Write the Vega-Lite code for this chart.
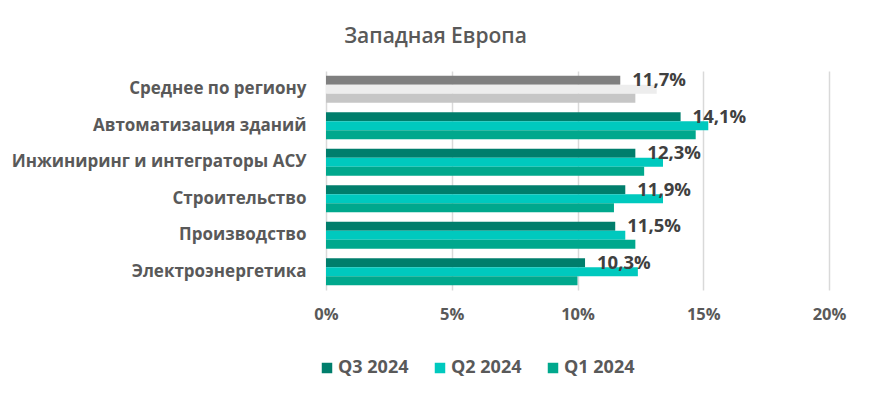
{
  "$schema": "https://vega.github.io/schema/vega-lite/v6.json",
  "width": 503,
  "height": 219,
  "padding": {"left": 11, "top": 26, "right": 41, "bottom": 20},
  "background": "white",
  "config": {
    "locale": {"number": {"decimal": ",", "thousands": " ", "grouping": [3], "currency": ["", " €"]}},
    "font": "Open Sans",
    "view": {"stroke": null}
  },
  "title": {
    "text": "Западная Европа",
    "anchor": "middle",
    "frame": "bounds",
    "fontSize": 21,
    "fontWeight": 600,
    "color": "#595959",
    "offset": 24,
    "dx": 7
  },
  "data": {
    "values": [
      {"category": "Среднее по региону", "series": "Q3 2024", "value": 0.117},
      {"category": "Среднее по региону", "series": "Q2 2024", "value": 0.1315},
      {"category": "Среднее по региону", "series": "Q1 2024", "value": 0.123},
      {"category": "Автоматизация зданий", "series": "Q3 2024", "value": 0.141},
      {"category": "Автоматизация зданий", "series": "Q2 2024", "value": 0.152},
      {"category": "Автоматизация зданий", "series": "Q1 2024", "value": 0.147},
      {"category": "Инжиниринг и интеграторы АСУ", "series": "Q3 2024", "value": 0.123},
      {"category": "Инжиниринг и интеграторы АСУ", "series": "Q2 2024", "value": 0.134},
      {"category": "Инжиниринг и интеграторы АСУ", "series": "Q1 2024", "value": 0.1265},
      {"category": "Строительство", "series": "Q3 2024", "value": 0.119},
      {"category": "Строительство", "series": "Q2 2024", "value": 0.134},
      {"category": "Строительство", "series": "Q1 2024", "value": 0.1145},
      {"category": "Производство", "series": "Q3 2024", "value": 0.115},
      {"category": "Производство", "series": "Q2 2024", "value": 0.119},
      {"category": "Производство", "series": "Q1 2024", "value": 0.123},
      {"category": "Электроэнергетика", "series": "Q3 2024", "value": 0.103},
      {"category": "Электроэнергетика", "series": "Q2 2024", "value": 0.124},
      {"category": "Электроэнергетика", "series": "Q1 2024", "value": 0.1}
    ]
  },
  "transform": [
    {"calculate": "datum.category === 'Среднее по региону' ? 'avg ' + datum.series : datum.series", "as": "colorKey"}
  ],
  "encoding": {
    "y": {
      "field": "category",
      "type": "nominal",
      "sort": ["Среднее по региону", "Автоматизация зданий", "Инжиниринг и интеграторы АСУ", "Строительство", "Производство", "Электроэнергетика"],
      "scale": {"paddingInner": 0.26, "paddingOuter": 0.13},
      "axis": {
        "title": null,
        "domain": false,
        "ticks": false,
        "labelPadding": 20,
        "labelFontSize": 17,
        "labelFontWeight": "bold",
        "labelColor": "#595959",
        "labelLimit": 400
      }
    },
    "yOffset": {"field": "series", "type": "nominal", "sort": ["Q3 2024", "Q2 2024", "Q1 2024"]},
    "x": {
      "field": "value",
      "type": "quantitative",
      "scale": {"domain": [0, 0.2], "nice": false},
      "axis": {
        "title": null,
        "format": ".0%",
        "values": [0, 0.05, 0.1, 0.15, 0.2],
        "domain": false,
        "ticks": false,
        "grid": true,
        "gridColor": "#D9D9D9",
        "gridWidth": 1.5,
        "labelFlush": false,
        "labelPadding": 16,
        "labelFontSize": 16.5,
        "labelFontWeight": "bold",
        "labelColor": "#595959"
      }
    }
  },
  "layer": [
    {
      "mark": {"type": "bar"},
      "encoding": {
        "color": {
          "field": "colorKey",
          "type": "nominal",
          "scale": {
            "domain": ["Q3 2024", "Q2 2024", "Q1 2024", "avg Q3 2024", "avg Q2 2024", "avg Q1 2024"],
            "range": ["#007E6C", "#00C9BE", "#00A88D", "#7F7F7F", "#EDEDED", "#C6C6C6"]
          },
          "legend": {
            "values": ["Q3 2024", "Q2 2024", "Q1 2024"],
            "title": null,
            "orient": "none",
            "legendX": -8,
            "legendY": 288,
            "direction": "horizontal",
            "symbolType": "square",
            "symbolSize": 110,
            "symbolStrokeWidth": 0,
            "labelFontSize": 18,
            "labelFontWeight": "bold",
            "labelColor": "#595959",
            "labelOffset": 2,
            "columnPadding": 22
          }
        }
      }
    },
    {
      "transform": [{"filter": "datum.series === 'Q3 2024'"}],
      "mark": {"type": "text", "align": "left", "baseline": "middle", "dx": 12, "fontSize": 18.5, "fontWeight": "bold", "color": "#404040"},
      "encoding": {
        "text": {"field": "value", "type": "quantitative", "format": ".1%"}
      }
    }
  ]
}
